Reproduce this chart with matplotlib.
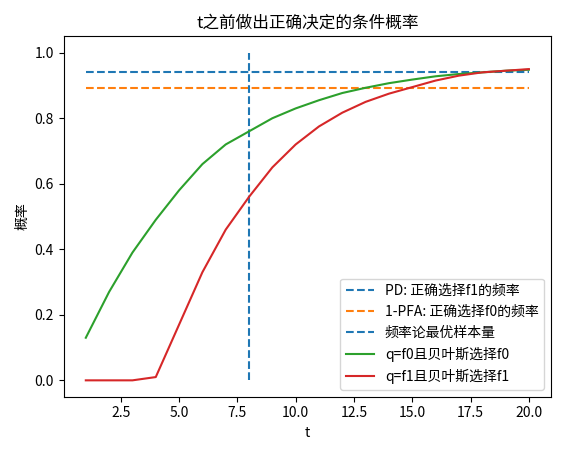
import matplotlib
matplotlib.use('Agg')
import matplotlib.pyplot as plt

plt.rcParams['font.family'] = ['Noto Sans CJK SC', 'DejaVu Sans']

t = list(range(1, 21))
bayes_f0 = [0.13, 0.27, 0.39, 0.49, 0.58, 0.66, 0.72, 0.76, 0.80, 0.83,
            0.855, 0.877, 0.893, 0.907, 0.918, 0.928, 0.935, 0.94, 0.945, 0.948]
bayes_f1 = [0.0, 0.0, 0.0, 0.01, 0.17, 0.33, 0.46, 0.56, 0.65, 0.72,
            0.775, 0.817, 0.85, 0.875, 0.895, 0.915, 0.93, 0.94, 0.945, 0.95]
pd_val = 0.94
one_minus_pfa = 0.893
n_freq = 8

fig, ax = plt.subplots(figsize=(5.66, 4.55), dpi=100)
ax.hlines(pd_val, t[0], t[-1], linestyles='--', label='PD: 正确选择f1的频率')
ax.hlines(one_minus_pfa, t[0], t[-1], colors='C1', linestyles='--', label='1-PFA: 正确选择f0的频率')
ax.vlines(n_freq, 0, 1, linestyles='--', label='频率论最优样本量')
ax.plot(t, bayes_f0, color='C2', label='q=f0且贝叶斯选择f0')
ax.plot(t, bayes_f1, color='C3', label='q=f1且贝叶斯选择f1')
ax.set_xlabel('t')
ax.set_ylabel('概率')
ax.set_title('t之前做出正确决定的条件概率')
ax.legend(loc='lower right')
fig.tight_layout()
fig.savefig('out.png')
